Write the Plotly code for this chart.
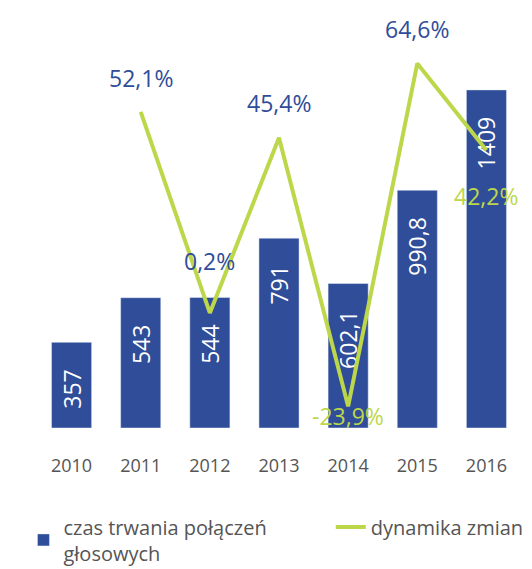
import plotly.graph_objects as go

lata = ["2010", "2011", "2012", "2013", "2014", "2015", "2016"]
czas_polaczen = [357, 543, 544, 791, 602.1, 990.8, 1409]
dynamika = [None, 52.1, 0.2, 45.4, -23.9, 64.6, 42.2]

BLUE = "#2f4d99"
GREEN = "#bdd74b"
GREY = "#555555"
FONT = "Open Sans"


def pl(v, suffix=""):
    s = ("%g" % v).replace(".", ",")
    return s + suffix


# label placement for the % values: (colour, above?, shift px)
label_style = {
    "2011": (BLUE, True, 16),
    "2012": (BLUE, True, 34),
    "2013": (BLUE, True, 17),
    "2014": (GREEN, False, 8),
    "2015": (BLUE, True, 16),
    "2016": (GREEN, False, -28),
}

fig = go.Figure()

fig.add_trace(go.Bar(
    x=lata,
    y=czas_polaczen,
    name="czas trwania połączeń<br>głosowych",
    marker_color=BLUE,
    text=[pl(v) + "\u00a0" * 4 for v in czas_polaczen],
    textposition="inside",
    insidetextanchor="end",
    textangle=-90,
    textfont=dict(color="white", size=23, family=FONT),
    hoverinfo="skip",
    legend="legend",
))

fig.add_trace(go.Scatter(
    x=lata,
    y=dynamika,
    name="dynamika zmian",
    mode="lines",
    line=dict(color=GREEN, width=4),
    yaxis="y2",
    hoverinfo="skip",
    legend="legend2",
))

for i, (rok, v) in enumerate(zip(lata, dynamika)):
    if v is None:
        continue
    col, above, shift = label_style[rok]
    fig.add_annotation(
        x=i, y=v, yref="y2",  # category index on the x axis
        text=pl(v, "%"),
        showarrow=False,
        yanchor="bottom" if above else "top",
        yshift=shift,
        font=dict(color=col, size=23, family=FONT),
    )

leg = dict(yanchor="top", y=-0.19, xanchor="left",
           font=dict(size=20, color=GREY), bgcolor="rgba(0,0,0,0)")

# page body adds ~8px offset, margins compensate for it
fig.update_layout(
    width=532,
    height=569,
    margin=dict(l=29, r=19, t=2, b=149, autoexpand=False),
    paper_bgcolor="white",
    plot_bgcolor="white",
    bargap=0.42,
    showlegend=True,
    font=dict(family=FONT, color=GREY),
    xaxis=dict(
        type="category",
        range=[-0.5, len(lata) - 0.5],
        showgrid=False, showline=False, zeroline=False,
        ticks="outside", ticklen=21, tickcolor="rgba(0,0,0,0)",
        tickfont=dict(size=18, color=GREY),
    ),
    yaxis=dict(range=[0, 1742], visible=False),
    yaxis2=dict(range=[-29.5, 78.4], overlaying="y", visible=False),
    legend=dict(leg, x=-0.028),
    legend2=dict(leg, x=0.607),
)

fig.write_html("out.html")
